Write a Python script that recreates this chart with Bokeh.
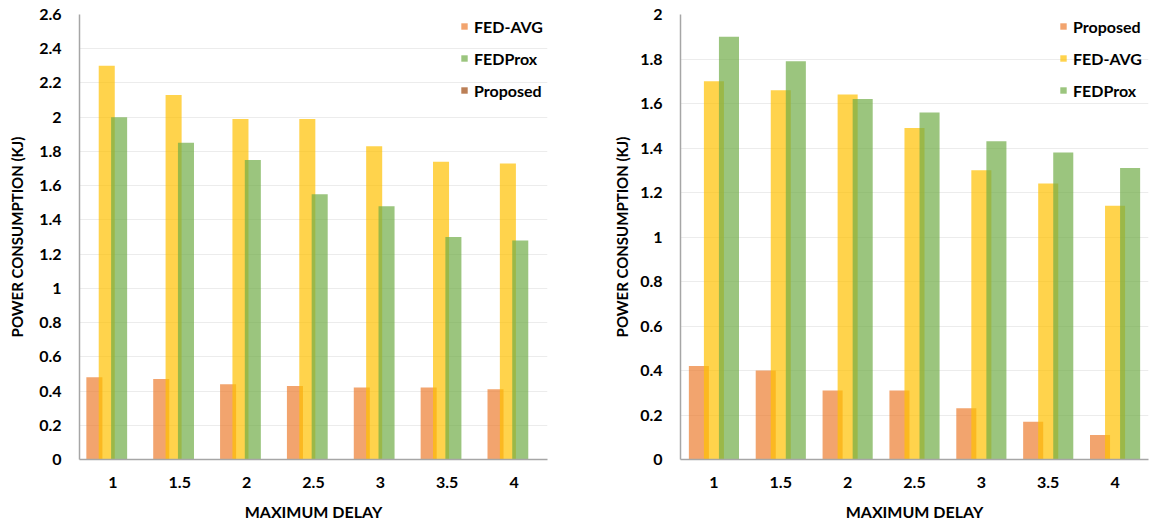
from bokeh.plotting import figure
from bokeh.layouts import row
from bokeh.models import (ColumnDataSource, FactorRange, Range1d, Legend, LegendItem,
                          FixedTicker, CustomJSTickFormatter)
from bokeh.transform import dodge
from bokeh.embed import file_html
from bokeh.resources import INLINE

# ---------------- data ----------------
delays = ["1", "1.5", "2", "2.5", "3", "3.5", "4"]

# left panel (legend as printed: FED-AVG orange, FEDProx green, Proposed brown; yellow unlabeled)
left_fed_avg = [0.48, 0.47, 0.44, 0.43, 0.42, 0.42, 0.41]     # orange
left_unlabeled = [2.30, 2.13, 1.99, 1.99, 1.83, 1.74, 1.73]   # yellow
left_fedprox = [2.00, 1.85, 1.75, 1.55, 1.48, 1.30, 1.28]     # green

# right panel
right_proposed = [0.42, 0.40, 0.31, 0.31, 0.23, 0.17, 0.11]   # orange
right_fed_avg = [1.70, 1.66, 1.64, 1.49, 1.30, 1.24, 1.14]    # yellow
right_fedprox = [1.90, 1.79, 1.62, 1.56, 1.43, 1.38, 1.31]    # green

left_y_ticks = [0, 0.2, 0.4, 0.6, 0.8, 1.0, 1.2, 1.4, 1.6, 1.8, 2.0, 2.2, 2.4, 2.6]
right_y_ticks = [0, 0.2, 0.4, 0.6, 0.8, 1.0, 1.2, 1.4, 1.6, 1.8, 2.0]

x_title = "MAXIMUM DELAY"
y_title = "POWER CONSUMPTION (KJ)"

ORANGE = "#ED7D31"
YELLOW = "#FFC000"
GREEN = "#70AD47"
BROWN = "#9E480E"
ALPHA = 0.7
FONT = "Lato"

fmt = CustomJSTickFormatter(code="return parseFloat(tick.toFixed(1)).toString();")


def make_fig(width, border_left, border_right, ymax, ticks, ylabel_standoff):
    p = figure(x_range=FactorRange(factors=delays, range_padding=0),
               y_range=Range1d(0, ymax),
               width=width, height=523, output_backend="svg", toolbar_location=None,
               min_border_left=border_left, min_border_right=border_right,
               min_border_top=14, min_border_bottom=64)
    p.outline_line_color = None
    p.xgrid.grid_line_color = None
    p.ygrid.grid_line_color = "#ECECEC"
    p.ygrid.grid_line_width = 1
    p.yaxis.ticker = FixedTicker(ticks=ticks)
    p.yaxis.formatter = fmt
    for ax in (p.xaxis[0], p.yaxis[0]):
        ax.major_tick_out = 0
        ax.major_tick_in = 0
        ax.minor_tick_out = 0
        ax.minor_tick_in = 0
        ax.axis_line_color = "#A6A6A6"
        ax.axis_line_width = 1.5
        ax.major_label_text_font = FONT
        ax.major_label_text_font_style = "bold"
        ax.major_label_text_font_size = "16px"
        ax.major_label_text_color = "#000000"
        ax.axis_label_text_font = FONT
        ax.axis_label_text_font_style = "bold"
        ax.axis_label_text_color = "#000000"
    p.yaxis.major_label_standoff = 18
    p.xaxis.major_label_standoff = 17
    p.xaxis.axis_label = x_title
    p.xaxis.axis_label_text_font_size = "16px"
    p.xaxis.axis_label_standoff = 11
    p.yaxis.axis_label = y_title
    p.yaxis.axis_label_text_font_size = "15px"
    p.yaxis.axis_label_standoff = ylabel_standoff
    return p


def style_legend(p, items, x, y):
    leg = Legend(items=items, location=(x, y), orientation="vertical",
                 glyph_width=8, glyph_height=8, label_standoff=6, spacing=12,
                 label_height=20, padding=0, margin=0,
                 label_text_font=FONT, label_text_font_style="bold",
                 label_text_font_size="16px", label_text_color="#000000",
                 border_line_alpha=0, background_fill_alpha=0)
    p.add_layout(leg, "center")


# ---------------- left panel ----------------
p1 = make_fig(580, 79, 33, 2.6, left_y_ticks, 10)
src1 = ColumnDataSource(dict(delay=delays, a=left_fed_avg, b=left_unlabeled, c=left_fedprox))
step1 = 0.185
w1 = 0.24
r_a = p1.vbar(x=dodge("delay", -1.5 * step1, range=p1.x_range), top="a", width=w1, source=src1,
              fill_color=ORANGE, fill_alpha=ALPHA, line_alpha=0)
r_b = p1.vbar(x=dodge("delay", -0.5 * step1, range=p1.x_range), top="b", width=w1, source=src1,
              fill_color=YELLOW, fill_alpha=ALPHA, line_alpha=0)
r_c = p1.vbar(x=dodge("delay", 0.5 * step1, range=p1.x_range), top="c", width=w1, source=src1,
              fill_color=GREEN, fill_alpha=ALPHA, line_alpha=0)
# "Proposed" slot: no visible bars in the reference (zero height), legend entry only
r_d = p1.vbar(x=dodge("delay", 1.5 * step1, range=p1.x_range), top=0, width=w1, source=src1,
              fill_color=BROWN, fill_alpha=ALPHA, line_alpha=0)
style_legend(p1, [LegendItem(label="FED-AVG", renderers=[r_a]),
                  LegendItem(label="FEDProx", renderers=[r_c]),
                  LegendItem(label="Proposed", renderers=[r_d])], 381, 359)

# ---------------- right panel ----------------
p2 = make_fig(573, 100, 5, 2.0, right_y_ticks, 6)
src2 = ColumnDataSource(dict(delay=delays, a=right_proposed, b=right_fed_avg, c=right_fedprox))
step2 = 0.225
w2 = 0.30
q_a = p2.vbar(x=dodge("delay", -step2, range=p2.x_range), top="a", width=w2, source=src2,
              fill_color=ORANGE, fill_alpha=ALPHA, line_alpha=0)
q_b = p2.vbar(x=dodge("delay", 0, range=p2.x_range), top="b", width=w2, source=src2,
              fill_color=YELLOW, fill_alpha=ALPHA, line_alpha=0)
q_c = p2.vbar(x=dodge("delay", step2, range=p2.x_range), top="c", width=w2, source=src2,
              fill_color=GREEN, fill_alpha=ALPHA, line_alpha=0)
style_legend(p2, [LegendItem(label="Proposed", renderers=[q_a]),
                  LegendItem(label="FED-AVG", renderers=[q_b]),
                  LegendItem(label="FEDProx", renderers=[q_c])], 379, 359)

layout = row(p1, p2, spacing=0)
open("out.html", "w").write(file_html(layout, INLINE))
